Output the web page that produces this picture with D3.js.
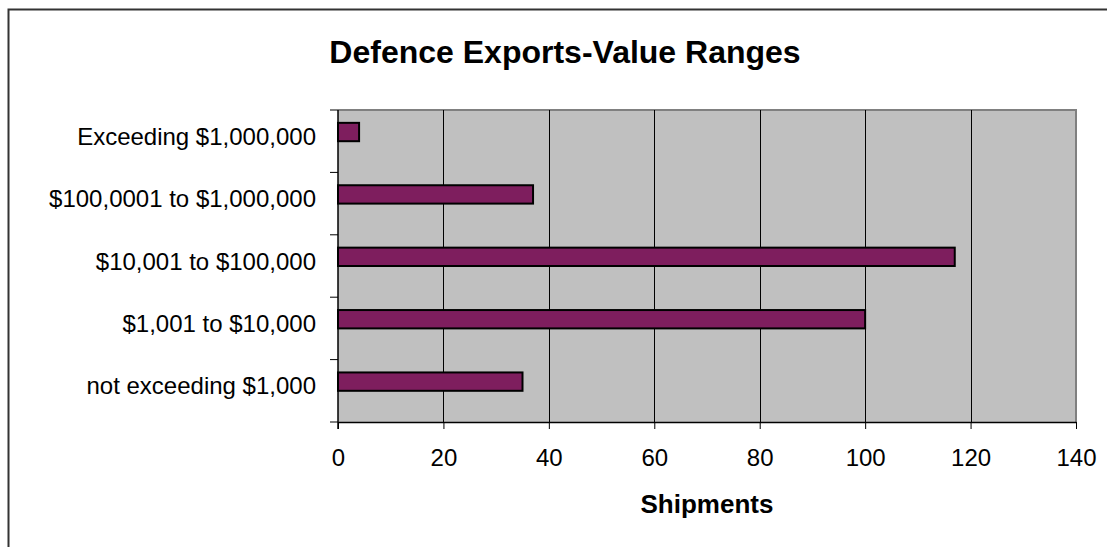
<!DOCTYPE html>
<html>
<head>
<meta charset="utf-8">
<script src="https://cdn.jsdelivr.net/npm/d3@7"></script>
<style>
  html, body { margin: 0; padding: 0; background: #fff; }
  svg { display: block; }
  text { font-family: "Liberation Sans", Arial, sans-serif; fill: #000; }
</style>
</head>
<body>
<svg id="chart" width="1107" height="547"></svg>
<script>
const categories = [
  "not exceeding $1,000",
  "$1,001 to $10,000",
  "$10,001 to $100,000",
  "$100,0001 to $1,000,000",
  "Exceeding $1,000,000"
];
const shipments = [35, 100, 117, 37, 4];
const seriesNames = ["Shipments", ""];
const xTicks = [0, 20, 40, 60, 80, 100, 120, 140];
const titleText = "Defence Exports-Value Ranges";
const xTitle = "Shipments";

const svg = d3.select("#chart");
const plot = { left: 338, right: 1076, top: 110, bottom: 422 };

// outer chart frame
svg.append("path")
  .attr("d", "M8.5,547 L8.5,9.5 L1107,9.5")
  .attr("fill", "none").attr("stroke", "#333").attr("stroke-width", 2);

const x = d3.scaleLinear().domain([0, 140]).range([plot.left, plot.right]);
const y = d3.scaleBand().domain(categories).range([plot.bottom, plot.top]).padding(0);
const sub = d3.scaleBand().domain(seriesNames).range([0, y.bandwidth()])
  .paddingInner(0).paddingOuter(0.7);

// plot background
svg.append("rect")
  .attr("x", plot.left).attr("y", plot.top)
  .attr("width", plot.right - plot.left).attr("height", plot.bottom - plot.top)
  .attr("fill", "#c0c0c0");

// plot border top/right
svg.append("path")
  .attr("d", `M${plot.left},${plot.top} L${plot.right},${plot.top} L${plot.right},${plot.bottom}`)
  .attr("fill", "none").attr("stroke", "#808080").attr("stroke-width", 2);

// gridlines
svg.append("g").selectAll("line")
  .data(xTicks.filter(t => t > 0 && t < 140))
  .join("line")
  .attr("x1", d => Math.round(x(d)) + 0.5).attr("x2", d => Math.round(x(d)) + 0.5)
  .attr("y1", plot.top).attr("y2", plot.bottom)
  .attr("stroke", "#000").attr("stroke-width", 1);

// bars
svg.append("g").selectAll("rect")
  .data(categories.map((c, i) => ({ c, v: shipments[i] })))
  .join("rect")
  .attr("x", x(0))
  .attr("y", d => y(d.c) + sub(seriesNames[0]))
  .attr("width", d => x(d.v) - x(0))
  .attr("height", sub.bandwidth())
  .attr("fill", "#7e1e5e")
  .attr("stroke", "#000").attr("stroke-width", 2);

// bottom axis
const xAxis = svg.append("g")
  .attr("transform", `translate(0,${plot.bottom})`)
  .call(d3.axisBottom(x).tickValues(xTicks).tickSize(7).tickPadding(20).tickSizeOuter(0));
xAxis.select(".domain").attr("stroke", "#000").attr("stroke-width", 1.5);
xAxis.selectAll(".tick line").attr("stroke", "#000");
xAxis.selectAll(".tick text")
  .attr("font-size", 24).attr("font-family", "Liberation Sans, Arial, sans-serif")
  .attr("fill", "#000");

// left axis: line, tick marks at band edges, labels at band centres
svg.append("line")
  .attr("x1", plot.left).attr("x2", plot.left)
  .attr("y1", plot.top).attr("y2", plot.bottom + 7)
  .attr("stroke", "#000").attr("stroke-width", 1.5);
const edges = categories.map(c => y(c)).concat([y(categories[0]) + y.bandwidth()]);
svg.append("g").selectAll("line")
  .data(edges)
  .join("line")
  .attr("x1", plot.left - 8).attr("x2", plot.left)
  .attr("y1", d => d).attr("y2", d => d)
  .attr("stroke", "#000").attr("stroke-width", 1);
const yAxis = svg.append("g")
  .attr("transform", `translate(${plot.left},-4)`)
  .call(d3.axisLeft(y).tickSize(0).tickPadding(22));
yAxis.select(".domain").remove();
yAxis.selectAll(".tick text")
  .attr("font-size", 24).attr("font-family", "Liberation Sans, Arial, sans-serif")
  .attr("fill", "#000");

// titles
svg.append("text")
  .attr("x", 565).attr("y", 63)
  .attr("text-anchor", "middle")
  .attr("font-size", 32).attr("font-weight", "bold")
  .text(titleText);
svg.append("text")
  .attr("x", (plot.left + plot.right) / 2).attr("y", 513)
  .attr("text-anchor", "middle")
  .attr("font-size", 26).attr("font-weight", "bold")
  .text(xTitle);
</script>
</body>
</html>
